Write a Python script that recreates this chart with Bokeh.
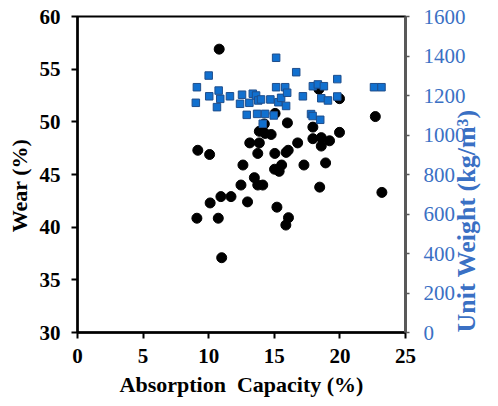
import math
from bokeh.plotting import figure
from bokeh.models import Range1d, LinearAxis, FixedTicker
from bokeh.embed import file_html
from bokeh.resources import INLINE

# Wear (%) vs absorption capacity (%)
absorption_wear = [9.17, 10.07, 13.13, 13.86, 13.74, 15.04, 12.61, 13.48, 12.46, 13.74,
                   14.12, 15.02, 15.37, 15.56, 10.93, 11.70, 10.11, 12.96, 9.10, 10.73,
                   15.20, 10.99, 15.90, 16.06, 16.78, 17.94, 18.58, 19.21, 18.58, 17.26,
                   18.91, 18.46, 16.08, 15.88, 10.80, 15.06, 14.24, 13.86, 14.30, 14.76,
                   16.00, 17.94, 19.97, 18.40, 19.97, 22.70, 23.20]
wear = [47.3, 46.9, 48.0, 48.0, 47.0, 47.0, 45.9, 44.7, 44.0, 44.0,
        44.0, 45.5, 45.3, 45.9, 42.9, 42.9, 42.3, 42.4, 40.85, 40.85,
        41.9, 37.1, 47.1, 47.3, 48.0, 48.4, 48.5, 48.2, 47.7, 45.9,
        46.1, 43.8, 40.9, 40.2, 56.9, 50.8, 49.8, 49.1, 48.9, 48.8,
        49.9, 49.5, 49.0, 53.1, 52.2, 50.5, 43.3]

# Unit weight (kg/m3) vs absorption capacity (%)
absorption_uw = [10.00, 9.10, 9.02, 10.04, 10.76, 10.88, 10.63, 11.62, 12.54, 12.39,
                 13.10, 13.36, 13.61, 13.78, 13.99, 14.70, 15.14, 15.14, 15.31, 15.52,
                 12.90, 13.69, 14.30, 14.96, 14.12, 16.67, 15.83, 15.98, 15.90, 17.18,
                 17.94, 18.32, 18.78, 19.80, 18.58, 19.09, 19.80, 17.80, 17.92, 18.50,
                 22.60, 23.17]
unit_weight = [1301, 1242, 1163, 1196, 1225, 1183, 1141, 1196, 1204, 1158,
               1163, 1209, 1200, 1175, 1180, 1180, 1391, 1242, 1166, 1188,
               1102, 1107, 1107, 1099, 1057, 1318, 1242, 1214, 1147, 1196,
               1247, 1256, 1247, 1283, 1186, 1175, 1195, 1106, 1096, 1077,
               1242, 1242]

x_ticks = [0, 5, 10, 15, 20, 25]
wear_ticks = [30, 35, 40, 45, 50, 55, 60]
uw_ticks = [0, 200, 400, 600, 800, 1000, 1200, 1400, 1600]

FONT = "Liberation Serif"
BLUE_TXT = "#3A70C4"
NB = "\u00a0"

p = figure(width=498, height=406, output_backend="svg", toolbar_location=None,
           x_range=Range1d(0, 25), y_range=Range1d(30, 60),
           min_border_left=77, min_border_right=93, min_border_top=16, min_border_bottom=74)
p.background_fill_color = "white"
p.border_fill_color = "white"
p.outline_line_color = "black"
p.outline_line_width = 2
p.xgrid.visible = False
p.ygrid.visible = False

p.extra_y_ranges = {"uw": Range1d(0, 1600)}

# bottom axis
xa = p.xaxis[0]
xa.ticker = FixedTicker(ticks=x_ticks)
xa.axis_line_color = "black"
xa.axis_line_width = 2.5
xa.major_tick_line_color = "black"
xa.major_tick_line_width = 2
xa.major_tick_out = 6
xa.major_tick_in = 0
xa.minor_tick_line_color = None
xa.major_label_text_font = FONT
xa.major_label_text_font_style = "bold"
xa.major_label_text_font_size = "21px"
xa.major_label_text_color = "black"
xa.major_label_standoff = 10
xa.axis_label = "Absorption" + NB + " Capacity (%)"
xa.axis_label_text_font = FONT
xa.axis_label_text_font_style = "bold"
xa.axis_label_text_font_size = "22px"
xa.axis_label_text_color = "black"
xa.axis_label_standoff = 6

# left axis
ya = p.yaxis[0]
ya.ticker = FixedTicker(ticks=wear_ticks)
ya.axis_line_color = "black"
ya.axis_line_width = 2.5
ya.major_tick_line_color = "black"
ya.major_tick_line_width = 2
ya.major_tick_out = 6
ya.major_tick_in = 0
ya.minor_tick_line_color = None
ya.major_label_text_font = FONT
ya.major_label_text_font_style = "bold"
ya.major_label_text_font_size = "21px"
ya.major_label_text_color = "black"
ya.major_label_standoff = 11
ya.axis_label = "Wear (%)" + NB * 4
ya.axis_label_text_font = FONT
ya.axis_label_text_font_style = "bold"
ya.axis_label_text_font_size = "22px"
ya.axis_label_text_color = "black"
ya.axis_label_standoff = 5

# right axis
ra = LinearAxis(y_range_name="uw", ticker=FixedTicker(ticks=uw_ticks))
ra.axis_line_color = "#595959"
ra.axis_line_width = 3
ra.major_tick_line_color = "#595959"
ra.major_tick_line_width = 1.5
ra.major_tick_out = 4
ra.major_tick_in = 0
ra.minor_tick_line_color = None
ra.major_label_text_font = FONT
ra.major_label_text_font_size = "21px"
ra.major_label_text_color = BLUE_TXT
ra.major_label_standoff = 14
ra.axis_label = "Unit Weight (kg/m\u00b3)"
ra.axis_label_orientation = math.pi / 2
ra.axis_label_align = "start"
ra.axis_label_text_font = FONT
ra.axis_label_text_font_style = "bold"
ra.axis_label_text_font_size = "26px"
ra.axis_label_text_color = BLUE_TXT
ra.axis_label_standoff = -2
p.add_layout(ra, "right")

# data
p.scatter(absorption_wear, wear, marker="circle", size=10,
          fill_color="black", line_color="black")
p.scatter(absorption_uw, unit_weight, marker="square", size=7.5, y_range_name="uw",
          fill_color="#1170CF", line_color="#1F4E8C", line_width=1)

open("out.html", "w").write(file_html(p, INLINE))
